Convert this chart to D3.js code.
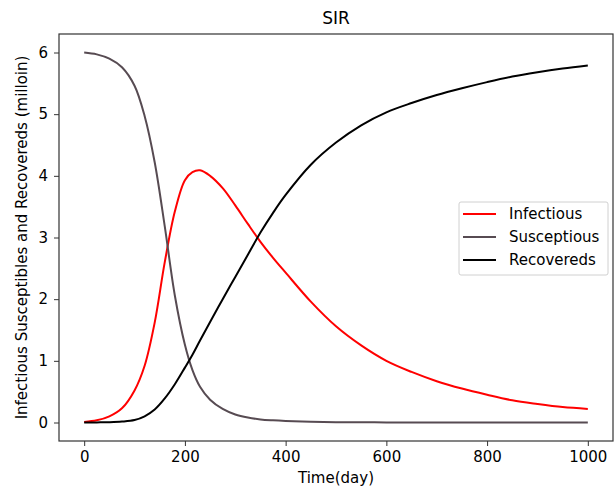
<!DOCTYPE html>
<html>
<head>
<meta charset="utf-8">
<script src="https://cdn.jsdelivr.net/npm/d3@7"></script>
<style>
  body { margin: 0; background: #fff; }
  svg { display: block; }
  text { font-family: 'DejaVu Sans', sans-serif; fill: #000; }
</style>
</head>
<body>
<svg id="chart" width="614" height="495"></svg>
<script>
// Data (time in days, values in millions)
var days = [0, 25, 50, 75, 100, 120, 140, 160, 180, 200, 215, 230, 250, 275, 300, 325, 350, 375, 400,
            450, 500, 550, 600, 650, 700, 750, 800, 850, 900, 950, 1000];
var infectious = [0.01, 0.035, 0.10, 0.23, 0.52, 0.92, 1.62, 2.60, 3.42, 3.93, 4.06, 4.09, 4.00, 3.80, 3.52,
                  3.22, 2.93, 2.67, 2.43, 1.96, 1.56, 1.25, 1.00, 0.82, 0.67, 0.55, 0.45, 0.36, 0.30, 0.25, 0.22];
var susceptious = [6.00, 5.97, 5.90, 5.76, 5.46, 4.97, 4.22, 3.18, 2.06, 1.26, 0.85, 0.58, 0.37, 0.22, 0.13,
                   0.08, 0.05, 0.035, 0.025, 0.012, 0.006, 0.003, 0.002, 0.001, 0, 0, 0, 0, 0, 0, 0];
var recovereds = [0.00, 0.002, 0.005, 0.015, 0.04, 0.10, 0.21, 0.39, 0.62, 0.89, 1.10, 1.33, 1.63, 2.00, 2.36,
                  2.72, 3.08, 3.40, 3.69, 4.18, 4.54, 4.82, 5.03, 5.18, 5.31, 5.42, 5.52, 5.61, 5.68, 5.74, 5.79];
var xTicks = [0, 200, 400, 600, 800, 1000];
var yTicks = [0, 1, 2, 3, 4, 5, 6];

var series = [
  { name: 'Infectious', vals: infectious, colour: '#ff0000' },
  { name: 'Susceptious', vals: susceptious, colour: '#574b52' },
  { name: 'Recovereds', vals: recovereds, colour: '#000000' }
];

var svg = d3.select('#chart');
var plotL = 59, plotR = 613, plotT = 34, plotB = 441;

var x = d3.scaleLinear().domain([-50, 1050]).range([plotL, plotR]);
var y = d3.scaleLinear().domain([-0.3, 6.3]).range([plotB, plotT]);

// axes
var xAxis = svg.append('g')
  .attr('transform', 'translate(0,' + plotB + ')')
  .call(d3.axisBottom(x).tickValues(xTicks).tickSize(5).tickPadding(5).tickFormat(d3.format('d')));
var yAxis = svg.append('g')
  .attr('transform', 'translate(' + plotL + ',0)')
  .call(d3.axisLeft(y).tickValues(yTicks).tickSize(5).tickPadding(6).tickFormat(d3.format('d')));
[xAxis, yAxis].forEach(function(a) {
  a.select('.domain').remove();
  a.selectAll('.tick line').attr('stroke', '#333').attr('stroke-width', 1);
  a.selectAll('.tick text').style('font-size', '15px').attr('fill', '#000');
});

// frame
svg.append('rect')
  .attr('x', plotL).attr('y', plotT)
  .attr('width', plotR - plotL).attr('height', plotB - plotT)
  .attr('fill', 'none').attr('stroke', '#333').attr('stroke-width', 1.2);

// lines
var line = d3.line()
  .x(function(d) { return x(d[0]); })
  .y(function(d) { return y(d[1]); })
  .curve(d3.curveCatmullRom.alpha(0.5));

series.forEach(function(s) {
  svg.append('path')
    .datum(days.map(function(t, i) { return [t, s.vals[i]]; }))
    .attr('d', line)
    .attr('fill', 'none')
    .attr('stroke', s.colour)
    .attr('stroke-width', 2);
});

// title and labels
svg.append('text')
  .attr('x', (plotL + plotR) / 2).attr('y', 24)
  .attr('text-anchor', 'middle')
  .style('font-size', '17px')
  .text('SIR');
svg.append('text')
  .attr('x', x(500)).attr('y', 483)
  .attr('text-anchor', 'middle')
  .style('font-size', '15px')
  .text('Time(day)');
svg.append('text')
  .attr('transform', 'translate(27,' + y(3) + ') rotate(-90)')
  .attr('text-anchor', 'middle')
  .style('font-size', '15px')
  .text('Infectious Susceptibles and Recovereds (milloin)');

// legend
var lg = svg.append('g').attr('transform', 'translate(459,202)');
lg.append('rect')
  .attr('width', 149).attr('height', 73)
  .attr('rx', 2)
  .attr('fill', '#fff').attr('stroke', '#d0d0d0');
series.forEach(function(s, i) {
  var yy = 12 + i * 23;
  lg.append('line')
    .attr('x1', 4).attr('x2', 37).attr('y1', yy).attr('y2', yy)
    .attr('stroke', s.colour).attr('stroke-width', 2);
  lg.append('text')
    .attr('x', 50).attr('y', yy + 5)
    .style('font-size', '15px')
    .text(s.name);
});
</script>
</body>
</html>
